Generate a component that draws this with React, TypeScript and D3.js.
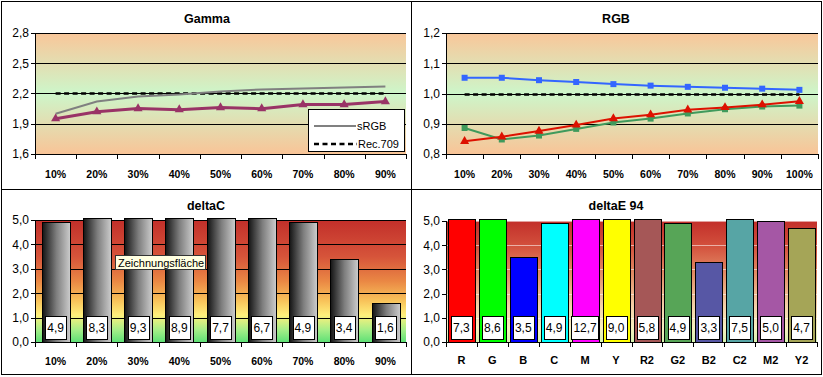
import React from 'react';
import * as d3 from 'd3';

// ---------- data ----------
const pctLabels9 = ['10%', '20%', '30%', '40%', '50%', '60%', '70%', '80%', '90%'];
const pctLabels10 = ['10%', '20%', '30%', '40%', '50%', '60%', '70%', '80%', '90%', '100%'];

const gammaMeasured = [1.95, 2.02, 2.05, 2.04, 2.06, 2.05, 2.09, 2.09, 2.12];
const gammaSRGB = [2.0, 2.12, 2.17, 2.19, 2.22, 2.24, 2.25, 2.26, 2.27];
const gammaRec709 = [2.2, 2.2, 2.2, 2.2, 2.2, 2.2, 2.2, 2.2, 2.2];
const gammaTicks = [1.6, 1.9, 2.2, 2.5, 2.8];

const rgbRed = [0.842, 0.857, 0.876, 0.896, 0.917, 0.93, 0.946, 0.954, 0.963, 0.974];
const rgbGreen = [0.886, 0.848, 0.861, 0.883, 0.904, 0.917, 0.934, 0.948, 0.957, 0.96];
const rgbBlue = [1.052, 1.052, 1.044, 1.038, 1.031, 1.026, 1.022, 1.019, 1.016, 1.012];
const rgbTarget = [1, 1, 1, 1, 1, 1, 1, 1, 1, 1];
const rgbTicks = [0.8, 0.9, 1.0, 1.1, 1.2];

const deltaCValues = [4.9, 8.3, 9.3, 8.9, 7.7, 6.7, 4.9, 3.4, 1.6];
const deltaTicks = [0, 1, 2, 3, 4, 5];

const deltaECategories = ['R', 'G', 'B', 'C', 'M', 'Y', 'R2', 'G2', 'B2', 'C2', 'M2', 'Y2'];
const deltaEValues = [7.3, 8.6, 3.5, 4.9, 12.7, 9.0, 5.8, 4.9, 3.3, 7.5, 5.0, 4.7];
const deltaEColors = ['#FF0000', '#00FF00', '#0000FF', '#00FFFF', '#FF00FF', '#FFFF00',
  '#A55757', '#57A557', '#5757A5', '#57A5A5', '#A557A5', '#A5A557'];

// ---------- helpers ----------
const FONT = '"Liberation Sans", Arial, sans-serif';
const fmt = (v: number) => d3.format('.1f')(v).replace('.', ',');
const textW = (s: string) => s.split('').reduce((a, c) => a + (c === ',' ? 3.34 : 6.67), 0);

type Rect = { x0: number; x1: number; y0: number; y1: number };

function YAxis({ y, ticks, r, grid = '#000', gridOpacity = 1 }: { y: d3.ScaleLinear<number, number>; ticks: number[]; r: Rect; grid?: string; gridOpacity?: number }) {
  return (
    <g>
      {ticks.map((t, i) => (
        <g key={i}>
          {i > 0 && (
            <line x1={r.x0} x2={r.x1} y1={Math.round(y(t)) + 0.5} y2={Math.round(y(t)) + 0.5} stroke={grid} strokeOpacity={gridOpacity} />
          )}
          <line x1={r.x0 - 4} x2={r.x0} y1={Math.round(y(t)) + 0.5} y2={Math.round(y(t)) + 0.5} stroke="#000" />
          <text x={r.x0 - 6} y={y(t)} dy="0.36em" textAnchor="end" fontFamily={FONT} fontSize={12}>
            {fmt(t)}
          </text>
        </g>
      ))}
      <line x1={r.x0 + 0.5} x2={r.x0 + 0.5} y1={r.y0} y2={r.y1} stroke="#000" />
    </g>
  );
}

function XAxis({ x, cats, r, labelY, fontSize = 10.5 }: { x: d3.ScaleBand<string>; cats: string[]; r: Rect; labelY: number; fontSize?: number }) {
  const step = x.step();
  return (
    <g>
      <line x1={r.x0} x2={r.x1} y1={r.y1 + 0.5} y2={r.y1 + 0.5} stroke="#000" />
      {cats.map((c, i) => (
        <line key={'t' + i} x1={Math.round((x(c) as number)) + 0.5} x2={Math.round((x(c) as number)) + 0.5} y1={r.y1} y2={r.y1 + 5} stroke="#000" />
      ))}
      <line x1={Math.round(r.x1) + 0.5} x2={Math.round(r.x1) + 0.5} y1={r.y1} y2={r.y1 + 5} stroke="#000" />
      {cats.map((c, i) => (
        <text key={'l' + i} x={(x(c) as number) + step / 2} y={labelY} textAnchor="middle" fontFamily={FONT} fontWeight="bold" fontSize={fontSize}>
          {c}
        </text>
      ))}
    </g>
  );
}

function Title({ x, y, text }: { x: number; y: number; text: string }) {
  return (
    <text x={x} y={y} textAnchor="middle" fontFamily={FONT} fontWeight="bold" fontSize={12.5}>
      {text}
    </text>
  );
}

export default function App() {
  // ---- Gamma panel ----
  const rG: Rect = { x0: 35, x1: 406, y0: 33, y1: 154 };
  const xG = d3.scaleBand<string>().domain(pctLabels9).range([rG.x0, rG.x1]).padding(0);
  const yG = d3.scaleLinear().domain([1.6, 2.8]).range([rG.y1, rG.y0]);
  const cxG = (i: number) => (xG(pctLabels9[i]) as number) + xG.bandwidth() / 2;
  const lineG = (vals: number[]) => d3.line<number>().x((_, i) => cxG(i)).y((v) => yG(v))(vals) as string;

  // ---- RGB panel ----
  const rR: Rect = { x0: 446, x1: 818, y0: 33, y1: 154 };
  const xR = d3.scaleBand<string>().domain(pctLabels10).range([rR.x0, rR.x1]).padding(0);
  const yR = d3.scaleLinear().domain([0.8, 1.2]).range([rR.y1, rR.y0]);
  const cxR = (i: number) => (xR(pctLabels10[i]) as number) + xR.bandwidth() / 2;
  const lineR = (vals: number[]) => d3.line<number>().x((_, i) => cxR(i)).y((v) => yR(v))(vals) as string;

  // ---- deltaC panel ----
  const rC: Rect = { x0: 35, x1: 406, y0: 220, y1: 342 };
  const xC = d3.scaleBand<string>().domain(pctLabels9).range([rC.x0, rC.x1]).paddingInner(0.33).paddingOuter(0.165);
  const xCaxis = d3.scaleBand<string>().domain(pctLabels9).range([rC.x0, rC.x1]).padding(0);
  const yC = d3.scaleLinear().domain([0, 5]).range([rC.y1, rC.y0]);

  // ---- deltaE panel ----
  const rE: Rect = { x0: 446, x1: 817, y0: 221, y1: 342 };
  const xE = d3.scaleBand<string>().domain(deltaECategories).range([rE.x0, rE.x1]).paddingInner(0.13).paddingOuter(0.065);
  const xEaxis = d3.scaleBand<string>().domain(deltaECategories).range([rE.x0, rE.x1]).padding(0);
  const yE = d3.scaleLinear().domain([0, 5]).range([rE.y1, rE.y0]);

  const tri = d3.symbol(d3.symbolTriangle, 36)() as string;
  const sq = d3.symbol(d3.symbolSquare, 36)() as string;

  const valueBox = (cx: number, v: number, key: string) => {
    const s = fmt(v);
    const w = textW(s) + 4;
    return (
      <g key={key}>
        <rect x={Math.round(cx - w / 2) + 0.5} y={316.5} width={Math.round(w)} height={23} fill="#fff" stroke="#000" />
        <text x={cx} y={332} textAnchor="middle" fontFamily={FONT} fontSize={12}>{s}</text>
      </g>
    );
  };

  return (
    <svg width={823} height={377} style={{ position: 'absolute', left: 0, top: 0, background: '#fff' }}>
      <defs>
        <linearGradient id="gGamma" x1="0" y1="0" x2="0" y2="1">
          <stop offset="0" stopColor="#F9C699" />
          <stop offset="0.5" stopColor="#CDF6CA" />
          <stop offset="1" stopColor="#F9C497" />
        </linearGradient>
        <linearGradient id="gDeltaC" x1="0" y1="0" x2="0" y2="1">
          <stop offset="0" stopColor="#C22F2A" />
          <stop offset="0.3" stopColor="#D6543A" />
          <stop offset="0.5" stopColor="#EA8744" />
          <stop offset="0.66" stopColor="#F8C25A" />
          <stop offset="0.78" stopColor="#FFF07C" />
          <stop offset="0.9" stopColor="#A6EE88" />
          <stop offset="1" stopColor="#5FE076" />
        </linearGradient>
        <linearGradient id="gDeltaE" x1="0" y1="0" x2="0" y2="1">
          <stop offset="0" stopColor="#C22F2A" />
          <stop offset="0.2" stopColor="#D24F3C" />
          <stop offset="0.45" stopColor="#E49068" />
          <stop offset="0.7" stopColor="#F4D0A8" />
          <stop offset="0.88" stopColor="#F8F0C0" />
          <stop offset="1" stopColor="#D6F4B2" />
        </linearGradient>
        <linearGradient id="gBar" x1="0" y1="0" x2="1" y2="0">
          <stop offset="0" stopColor="#141414" />
          <stop offset="0.5" stopColor="#7E7E7E" />
          <stop offset="1" stopColor="#CDCDCD" />
        </linearGradient>
      </defs>

      {/* frame */}
      <rect x={1.5} y={1.5} width={820} height={373} fill="none" stroke="#000" />
      <line x1={411.5} x2={411.5} y1={1} y2={375} stroke="#000" />
      <line x1={1} x2={822} y1={189.5} y2={189.5} stroke="#000" />

      {/* ===== Gamma ===== */}
      <Title x={207} y={23} text="Gamma" />
      <rect x={rG.x0} y={rG.y0} width={rG.x1 - rG.x0} height={rG.y1 - rG.y0} fill="url(#gGamma)" />
      <YAxis y={yG} ticks={gammaTicks} r={rG} />
      <XAxis x={xG} cats={pctLabels9} r={rG} labelY={178} />
      <path d={lineG(gammaRec709)} fill="none" stroke="#000" strokeWidth={2.5} strokeDasharray="5,3.5" />
      <path d={lineG(gammaSRGB)} fill="none" stroke="#808080" strokeWidth={2} />
      <path d={lineG(gammaMeasured)} fill="none" stroke="#993366" strokeWidth={3} />
      {gammaMeasured.map((v, i) => (
        <path key={i} d={tri} transform={`translate(${cxG(i)},${yG(v)})`} fill="#993366" />
      ))}
      {/* legend */}
      <rect x={308.5} y={109.5} width={96} height={42} fill="#fff" stroke="#000" />
      <line x1={314} x2={356} y1={126} y2={126} stroke="#808080" strokeWidth={2} />
      <text x={357} y={130} fontFamily={FONT} fontSize={11}>sRGB</text>
      <line x1={314} x2={357} y1={144} y2={144} stroke="#000" strokeWidth={2.5} strokeDasharray="5,3.5" />
      <text x={358} y={148} fontFamily={FONT} fontSize={11}>Rec.709</text>

      {/* ===== RGB ===== */}
      <Title x={616} y={23} text="RGB" />
      <rect x={rR.x0} y={rR.y0} width={rR.x1 - rR.x0} height={rR.y1 - rR.y0} fill="url(#gGamma)" />
      <YAxis y={yR} ticks={rgbTicks} r={rR} />
      <XAxis x={xR} cats={pctLabels10} r={rR} labelY={178} />
      <path d={lineR(rgbTarget)} fill="none" stroke="#000" strokeWidth={2.5} strokeDasharray="5,3.5" transform="translate(0,1)" />
      <path d={lineR(rgbBlue)} fill="none" stroke="#3366FF" strokeWidth={2} />
      {rgbBlue.map((v, i) => (
        <path key={'b' + i} d={sq} transform={`translate(${cxR(i)},${yR(v)})`} fill="#3366FF" />
      ))}
      <path d={lineR(rgbGreen)} fill="none" stroke="#3F9A5C" strokeWidth={2} />
      {rgbGreen.map((v, i) => (
        <path key={'g' + i} d={sq} transform={`translate(${cxR(i)},${yR(v)})`} fill="#3F9A5C" />
      ))}
      <path d={lineR(rgbRed)} fill="none" stroke="#DD1100" strokeWidth={2} />
      {rgbRed.map((v, i) => (
        <path key={'r' + i} d={tri} transform={`translate(${cxR(i)},${yR(v)})`} fill="#DD1100" />
      ))}

      {/* ===== deltaC ===== */}
      <Title x={206} y={210} text="deltaC" />
      <rect x={rC.x0} y={rC.y0} width={rC.x1 - rC.x0} height={rC.y1 - rC.y0} fill="url(#gDeltaC)" />
      <YAxis y={yC} ticks={deltaTicks} r={rC} />
      {deltaCValues.map((v, i) => {
        const c = pctLabels9[i];
        const top = Math.max(yC(v), yC(5.1));
        return (
          <rect key={i} x={Math.round(xC(c) as number) + 0.5} y={Math.round(top) + 0.5} width={Math.round(xC.bandwidth())} height={rC.y1 - Math.round(top)} fill="url(#gBar)" stroke="#000" />
        );
      })}
      {deltaCValues.map((v, i) => valueBox((xC(pctLabels9[i]) as number) + xC.bandwidth() / 2, v, 'c' + i))}
      <XAxis x={xCaxis} cats={pctLabels9} r={rC} labelY={365} />
      <rect x={115.5} y={255.5} width={90} height={14} fill="#FFFFE1" stroke="#333" />
      <text x={118} y={266.5} fontFamily={FONT} fontSize={11}>Zeichnungsfläche</text>

      {/* ===== deltaE 94 ===== */}
      <Title x={616} y={210} text="deltaE 94" />
      <rect x={rE.x0} y={rE.y0} width={rE.x1 - rE.x0} height={rE.y1 - rE.y0} fill="url(#gDeltaE)" />
      <YAxis y={yE} ticks={deltaTicks} r={rE} grid="#FFFFFF" gridOpacity={0.55} />
      {deltaEValues.map((v, i) => {
        const c = deltaECategories[i];
        const top = Math.max(yE(v), yE(5.1));
        return (
          <rect key={i} x={Math.round(xE(c) as number) + 0.5} y={Math.round(top) + 0.5} width={Math.round(xE.bandwidth())} height={rE.y1 - Math.round(top)} fill={deltaEColors[i]} stroke="#000" />
        );
      })}
      {deltaEValues.map((v, i) => valueBox((xE(deltaECategories[i]) as number) + xE.bandwidth() / 2, v, 'e' + i))}
      <XAxis x={xEaxis} cats={deltaECategories} r={rE} labelY={364} fontSize={11} />
    </svg>
  );
}
